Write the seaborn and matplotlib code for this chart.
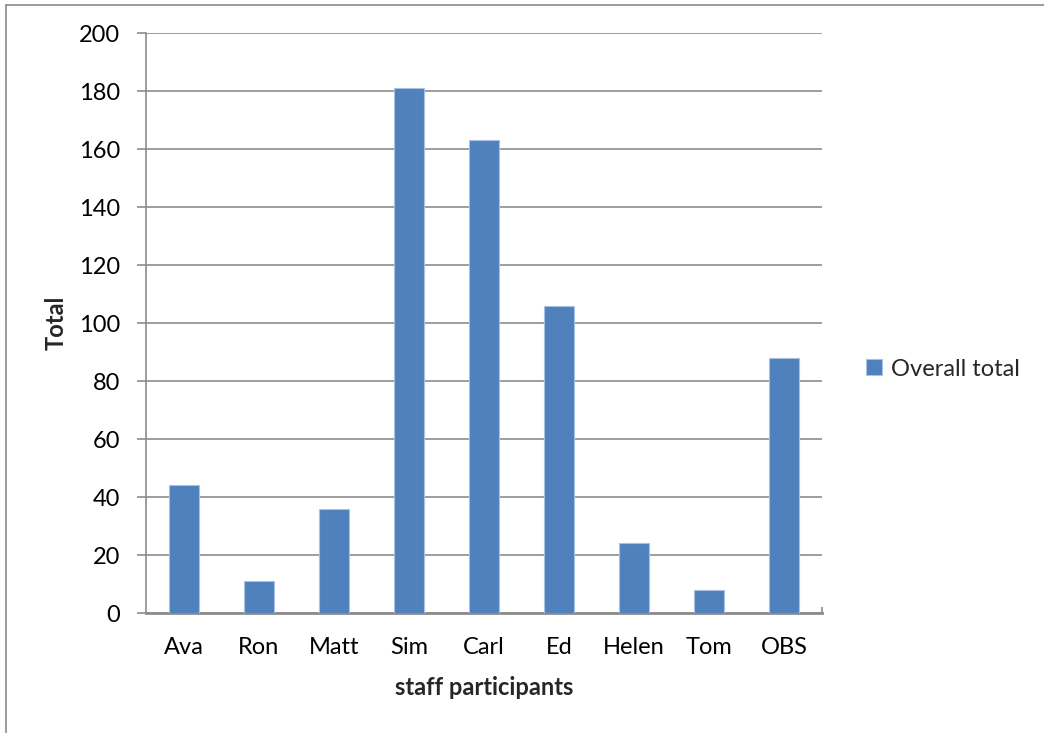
import matplotlib
matplotlib.use("Agg")
import matplotlib.pyplot as plt
from matplotlib.lines import Line2D
import seaborn as sns
import pandas as pd

staff = ["Ava", "Ron", "Matt", "Sim", "Carl", "Ed", "Helen", "Tom", "OBS"]
totals = [44, 11, 36, 181, 163, 106, 24, 8, 88]
y_ticks = [0, 20, 40, 60, 80, 100, 120, 140, 160, 180, 200]

sns.set_theme(style="white")
plt.rcParams["font.family"] = ["Lato", "DejaVu Sans"]

BAR = "#4F81BD"
GRID = "#8C8C8C"
FS = 17

df = pd.DataFrame({"staff participants": staff, "Total": totals})

fig = plt.figure(figsize=(10.44, 7.33), dpi=100)
ax = fig.add_axes([146 / 1044, 1 - 613 / 733, 676 / 1044, 580 / 733])

sns.barplot(data=df, x="staff participants", y="Total", color=BAR,
            width=0.4, saturation=1, ax=ax, label="Overall total",
            edgecolor="#A9C2E3", linewidth=0.8, zorder=3)

ax.set_ylim(0, 200)
ax.set_xlim(-0.5, len(staff) - 0.5)
ax.set_yticks(y_ticks)
ax.yaxis.grid(True, color=GRID, linewidth=1.2, zorder=0)
ax.set_axisbelow(True)

for side in ("top", "right"):
    ax.spines[side].set_visible(False)
ax.spines["left"].set_color(GRID)
ax.spines["left"].set_linewidth(1.2)
ax.spines["bottom"].set_color(GRID)
ax.spines["bottom"].set_linewidth(2.0)

ax.tick_params(axis="y", direction="out", length=6.5, width=1.2, color=GRID,
               labelsize=FS, pad=12, labelcolor="black", left=True)
ax.tick_params(axis="x", direction="in", length=4, width=1.2, color=GRID,
               labelsize=FS, pad=17, labelcolor="black", bottom=True)
ax.set_xticks(range(len(staff)), minor=False)
ax.set_xticks([len(staff) - 0.5], minor=True)
ax.tick_params(axis="x", which="minor", direction="in", length=4, width=1.2,
               color=GRID, bottom=True)

ax.set_xlabel("staff participants", fontsize=FS, fontweight="bold")
ax.set_ylabel("Total", fontsize=FS, fontweight="bold")
ax.xaxis.set_label_coords((484 - 146) / 676, (613 - 676) / 580)
ax.yaxis.set_label_coords((68 - 146) / 676, 0.5)

leg = ax.legend(loc="center left", bbox_to_anchor=(845 / 1044, 1 - 369 / 733),
                bbox_transform=fig.transFigure, frameon=False, fontsize=FS,
                handlelength=0.65, handleheight=0.65, handletextpad=0.4)

# outer chart frame
fig.add_artist(Line2D([6 / 1044, 6 / 1044], [0, 1 - 4.5 / 733],
                      transform=fig.transFigure, color="#8A8A8A", linewidth=1.2))
fig.add_artist(Line2D([6 / 1044, 1], [1 - 4.5 / 733, 1 - 4.5 / 733],
                      transform=fig.transFigure, color="#8A8A8A", linewidth=1.2))

fig.savefig("out.png", dpi=100, facecolor="white")
